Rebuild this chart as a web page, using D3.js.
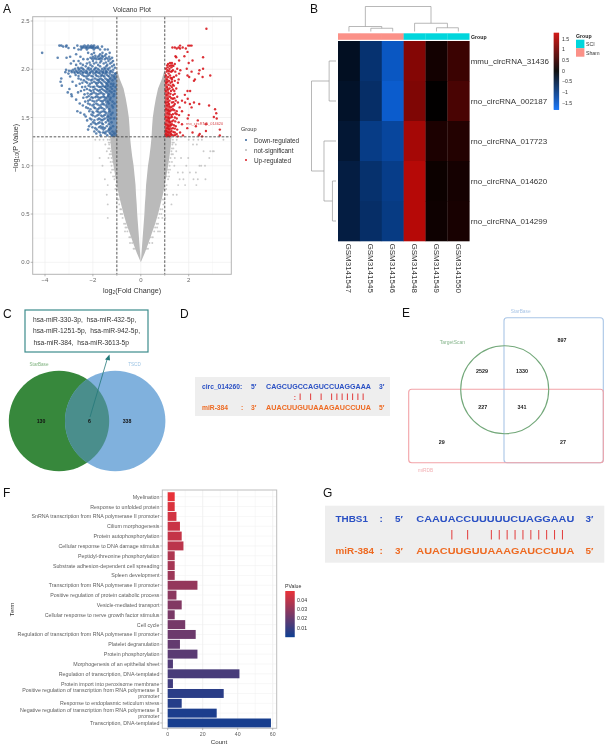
<!DOCTYPE html>
<html><head><meta charset="utf-8">
<style>html,body{margin:0;padding:0;background:#fff}svg{display:block;filter:blur(.4px)}text{font-family:"Liberation Sans",Arial,sans-serif}</style>
<script src="https://cdn.jsdelivr.net/npm/d3@7"></script></head><body><svg id="c" width="608" height="746"></svg>
<script>
// ---------- A: volcano ----------
const volcanoLevels=[0,.1,.2,.3,.4,.5,.6,.7,.8,.9,1,1.1,1.2,1.3,1.4,1.5,1.6,1.7,1.8,1.9,2];
const grayOuter=[0,.17,.32,.46,.6,.72,.82,.92,1,1.07,1.14,1.2,1.25,1.28,1,1,1,1,1,1,1];
const grayInner=[0,.03,.06,.09,.12,.15,.17,.2,.22,.26,.3,.36,.41,.45,.47,.5,.56,.63,.72,.88,1];
const denseLevels=[1.3,1.36,1.42,1.5,1.58,1.66,1.74,1.82,1.9,1.97];
const denseDown=[-1.22,-1.42,-1.3,-1.46,-1.34,-1.5,-1.4,-1.52,-1.36,-1.08];
const denseUp=[1.28,1.2,1.3,1.2,1.26,1.16,1.2,1.12,1.12,1.03];
const downRows=[
[2.245,[-3.4,-3.32,-3.1,-2.65,-2.35,-2.2,-2.06,-1.95]],
[2.235,[-3.24,-3.12,-2.5,-2.42,-2.28,-2.12,-2,-1.8,-1.62]],
[2.22,[-3.02,-2.78,-2.46,-2.3,-2.18,-2.02,-1.9,-1.78]],
[2.205,[-2.6,-2.5,-2.25,-1.96,-1.7,-1.5,-1.38]],
[2.17,[-4.12,-2.2,-1.95,-1.6,-1.3]],
[2.155,[-2.7,-2.05,-1.7,-1.45]],
[2.13,[-2.95,-2.52,-2,-1.8,-1.58,-1.32]],
[2.12,[-3.47,-3.1,-2.1,-1.9,-1.68,-1.44,-1.2]],
[2.105,[-2.4,-2.22,-1.85,-1.72,-1.5,-1.28]],
[2.085,[-2.8,-2.6,-2,-1.65,-1.35,-1.16]],
[2.06,[-2.92,-2.52,-2.25,-1.95,-1.55,-1.28]],
[2.045,[-2.7,-2.42,-2.1,-1.78,-1.4,-1.12]],
[2.03,[-2.3,-2.02,-1.7,-1.44,-1.2]],
[2.015,[-2.62,-2.48,-2.18,-1.88,-1.52,-1.3,-1.08]],
[1.995,[-3.12,-2.82,-2.6,-2.38,-2.15,-1.95,-1.75,-1.55,-1.35,-1.15]],
[1.985,[-3,-2.9,-2.7,-2.5,-2.28,-2.05,-1.85,-1.65,-1.45,-1.25]],
[1.97,[-3.15,-2.88,-2.66,-2.35,-2.1,-1.82,-1.6,-1.4,-1.18]],
[1.955,[-3.02,-2.52,-2.22,-1.98,-1.7,-1.5,-1.3,-1.06]],
[1.94,[-2.72,-2.44,-2.15,-1.88,-1.62,-1.42,-1.22]],
[1.925,[-2.95,-2.3,-2,-1.76,-1.52,-1.32,-1.12]],
[1.905,[-3.32,-2.6,-2.25,-1.92,-1.68,-1.48,-1.28,-1.08]],
[1.885,[-2.38,-2.08,-1.78,-1.58,-1.38,-1.18]],
[1.87,[-3.35,-2.85,-2.3,-1.95,-1.72,-1.52,-1.34]],
[1.85,[-2.55,-2.12,-1.85,-1.62,-1.42,-1.24,-1.14]],
[1.83,[-3.3,-2.7,-2.18,-1.82,-1.58,-1.38,-1.16]],
[1.815,[-2.45,-2,-1.7,-1.48,-1.26,-1.06]],
[1.795,[-2.98,-2.25,-1.9,-1.62,-1.4,-1.2]],
[1.775,[-2.5,-2.08,-1.76,-1.5,-1.3,-1.1]],
[1.76,[-3.05,-2.62,-1.96,-1.66,-1.44,-1.22]],
[1.74,[-2.9,-2.35,-2.1,-1.8,-1.54,-1.34,-1.12]],
[1.72,[-2.88,-2.18,-1.85,-1.56,-1.36,-1.14]],
[1.705,[-2.4,-2,-1.7,-1.46,-1.26]],
[1.685,[-2.7,-2.12,-1.76,-1.5,-1.28]],
[1.665,[-2.32,-1.94,-1.62,-1.38,-1.18]],
[1.645,[-2.55,-2.2,-1.86,-1.58,-1.34,-1.1]],
[1.625,[-2.42,-2.02,-1.72,-1.46,-1.2]],
[1.605,[-2.28,-1.95,-1.66,-1.42,-1.16]],
[1.585,[-2.1,-1.8,-1.52,-1.32]],
[1.565,[-2.65,-2.15,-1.84,-1.56,-1.3]],
[1.55,[-2.52,-1.98,-1.7,-1.44,-1.18]],
[1.53,[-2.36,-2.06,-1.76,-1.48,-1.24]],
[1.51,[-2.3,-1.9,-1.6,-1.36]],
[1.49,[-2.12,-1.74,-1.5,-1.26,-1.12]],
[1.47,[-2.24,-1.94,-1.62,-1.38]],
[1.45,[-2,-1.72,-1.46,-1.22]],
[1.43,[-2.08,-1.86,-1.58,-1.34]],
[1.41,[-2.16,-1.68,-1.42,-1.16]],
[1.39,[-1.9,-1.64,-1.5,-1.26]],
[1.375,[-2.2,-1.84,-1.56,-1.32]],
[1.355,[-1.94,-1.76,-1.44,-1.18]],
[1.335,[-1.86,-1.48,-1.28,-1.1]],
[1.315,[-1.68,-1.4,-1.2]]];
const downDenseRows=[
[2.225,[-2.38,-2.24,-2.1,-2.06,-1.98,-1.86]],
[2.14,[-1.9,-1.74,-1.62,-1.5]],
[2.11,[-2.04,-1.96,-1.76,-1.62,-1.38]],
[2.07,[-2.14,-1.86,-1.7,-1.46,-1.22]],
[2.005,[-2.74,-2.56,-2.42,-2.22,-2.08,-1.92,-1.8,-1.62,-1.48,-1.38]],
[1.975,[-2.78,-2.56,-2.44,-2.24,-2,-1.88,-1.72,-1.56,-1.46,-1.28]],
[1.96,[-2.76,-2.62,-2.42,-2.28,-2.12,-1.9,-1.76,-1.58,-1.44]],
[1.93,[-2.6,-2.38,-2.22,-2.06,-1.84,-1.66,-1.56,-1.36]],
[1.895,[-2.5,-2.18,-2.02,-1.84,-1.74,-1.62,-1.42]],
[1.86,[-2.44,-2.24,-2.04,-1.88,-1.78,-1.66,-1.46]],
[1.82,[-2.32,-2.1,-1.94,-1.76,-1.64,-1.52]],
[1.785,[-2.36,-2.14,-1.98,-1.82,-1.7,-1.56]],
[1.75,[-2.22,-2.04,-1.88,-1.72,-1.6]],
[1.71,[-2.26,-2.06,-1.9,-1.78,-1.64,-1.52]],
[1.675,[-2.2,-2.02,-1.84,-1.68,-1.56]],
[1.635,[-2.12,-1.96,-1.8,-1.64,-1.54]],
[1.595,[-2.2,-1.9,-1.74,-1.6]],
[1.56,[-2.02,-1.78,-1.64,-1.5]],
[1.52,[-2,-1.82,-1.66,-1.54]],
[1.48,[-2.06,-1.8,-1.68,-1.56]],
[1.44,[-1.92,-1.78,-1.62]],
[1.4,[-2.02,-1.74,-1.58]],
[1.345,[-1.7,-1.58,-1.52]]];
const upRows=[
[2.42,[2.74]],
[2.245,[1.64,1.98,2.05,2.12]],
[2.225,[1.32,1.42,1.58,1.75]],
[2.215,[1.5,1.64,1.88]],
[2.18,[1.95]],
[2.135,[1.45,1.82]],
[2.125,[1.48,2.6]],
[2.09,[1.6,2.16]],
[2.065,[1.22,1.3,2.0]],
[2.055,[1.14,1.42]],
[2.035,[1.2,1.36]],
[2.02,[1.12,1.28]],
[2.005,[1.05,1.2,1.52,1.92,2.6]],
[1.99,[1.12,1.34,1.65,2.45]],
[1.975,[1.08,1.26,1.44,2.12]],
[1.955,[1.16,1.6,2.42]],
[1.935,[1.05,1.22,1.48,1.95,2.9]],
[1.92,[1.14,1.38,2.02,2.58]],
[1.895,[1.1,1.3,1.58,2.26]],
[1.88,[1.18,1.42,2.22]],
[1.86,[1.06,1.24,1.55]],
[1.84,[1.16,1.34]],
[1.815,[1.1,1.3]],
[1.8,[1.2,1.48]],
[1.775,[1.04,1.26,1.4,1.95,2.06]],
[1.755,[1.16]],
[1.735,[1.08,1.35,1.84]],
[1.715,[1.22,1.52]],
[1.695,[1.12,1.34,1.96]],
[1.675,[1.2,1.46,1.72]],
[1.655,[1.04,1.3,1.55,1.85,2.22]],
[1.64,[1.18,1.42,2.05,2.44]],
[1.625,[1.1,1.38,2.85]],
[1.605,[1.26,1.62,2.12]],
[1.585,[1.06,1.34,3.1]],
[1.565,[1.2,1.5,1.72]],
[1.545,[1.12,1.44,3.15]],
[1.525,[1.28,1.6,2]],
[1.505,[1.04,1.3,3.05]],
[1.49,[1.18,1.5,3.17,1.96]],
[1.47,[1.1,1.36,2.38]],
[1.45,[1.22,1.58]],
[1.43,[1.04,1.3,1.72,2.72]],
[1.41,[1.16,1.46,2.3]],
[1.39,[1.1,1.34,1.94]],
[1.375,[1.2,1.52,3.3]],
[1.36,[1.06,1.28,2.72]],
[1.345,[1.18,1.42,1.64,2.16]],
[1.33,[1.04,1.26,1.5,2.46]],
[1.315,[1.14,1.38,1.76,2.42,3.3]],
[1.305,[1.08,1.2,1.55,2.56]]];
const upDenseRows=[
[2.04,[1.1,1.26,1.32]],[1.98,[1.18,1.3]],[1.91,[1.24,1.3]],[1.87,[1.12,1.3]],[1.83,[1.24,1.38]],
[1.79,[1.14,1.34]],[1.745,[1.24,1.42]],[1.7,[1.28,1.4]],[1.66,[1.14,1.36]],[1.615,[1.2,1.32]],
[1.575,[1.14,1.28,1.4]],[1.535,[1.2,1.34,1.5]],[1.5,[1.14,1.24,1.42]],[1.46,[1.18,1.3,1.44]],
[1.42,[1.12,1.24,1.38]],[1.385,[1.16,1.28,1.42]],[1.35,[1.12,1.24,1.36]],[1.32,[1.1,1.3,1.44]]];
const grayRows=[
[1.27,[-1.9,-1.72,-1.56,-1.38,-1.3,1.34,1.5,2,2.2,2.4,2.55,3.45]],
[1.24,[-1.34,-1.28,1.38,1.32]],
[1.22,[-1.48,-1.32,1.32,1.46,2.18,2.34]],
[1.18,[-1.3,-1.36,1.36,1.3]],
[1.15,[-1.42,-1.25,1.28,1.48,2.62,2.9,3.05,3]],
[1.12,[-1.3,-1.24,1.28,1.34]],
[1.08,[-1.72,-1.35,-1.22,1.24,1.42,1.68,1.98,2.86]],
[1.04,[-1.18,-1.26,1.2,1.3]],
[1,[-1.6,-1.22,1.2,1.4,1.9,2.45,2.52,2.68]],
[.96,[-1.14,-1.2,1.14,1.22]],
[.93,[-1.25,1.16,1.55,1.75,2.05,2.3]],
[.89,[-1.1,-1.16,1.08,1.18]],
[.86,[-1.5,-1.1,1.14,1.62,1.78,2.2,2.38,2.7]],
[.8,[-1.38,-1.04,1.08,1.56,1.85,2.32]],
[.76,[-1,-1.06,.98,1.06]],
[.7,[-1.42,-.96,1.02,1.1,1.35,1.5]],
[.65,[-.92,-.98,.92,.98]],
[.6,[-1.38,-.9,.94,1.28]],
[.55,[-.82,-.86,.82,.9]],
[.5,[-.78,-.84,.78,.86]],
[.46,[-1.38,-.76,.74,.9,1.02]],
[.4,[-.64,-.7,.66,.72]],
[.36,[-.58,-.64,.6,.68]],
[.32,[-.56,-.66,.56,.72,.8]],
[.26,[-.42,-.48,.42,.5]],
[.2,[-.36,-.45,.36,.48]],
[.14,[-.24,-.3,.24,.3]]];
const xTicksA=[-4,-2,0,2], yTicksA=[0,.5,1,1.5,2,2.5];
const legendA=["Down-regulated","not-significant","Up-regulated"];
const colorsA=["#35659d","#b9b9b9","#d81a20"];
// ---------- B: heatmap ----------
const samples=["GSM3141547","GSM3141545","GSM3141546","GSM3141548","GSM3141549","GSM3141550"];
const circRNAs=["mmu_circRNA_31436","rno_circRNA_002187","rno_circRNA_017723","rno_circRNA_014620","rno_circRNA_014299"];
const heat=[[-.25,-.82,-1.42,1.12,.16,.5],[-.3,-.75,-1.5,1.08,.02,.62],[-.38,-.98,-1.15,1.4,.24,.3],[-.48,-.8,-1,1.55,.1,.18],[-.48,-.75,-.96,1.55,.12,.2]];
const groups=["Sham","Sham","Sham","SCI","SCI","SCI"];
const heatTicks=[1.5,1,.5,0,-.5,-1,-1.5];
// ---------- C ----------
const vennC=[["StarBase",130],["overlap",6],["TSCD",338]];
const mirLines=["hsa-miR-330-3p,\u00a0\u00a0hsa-miR-432-5p,","hsa-miR-1251-5p,\u00a0\u00a0hsa-miR-942-5p,","hsa-miR-384,\u00a0\u00a0hsa-miR-3613-5p"];
// ---------- D, G ----------
const seqD=["CAGCUGCCAGUCCUAGGAAA","AUACUUGUUAAAGAUCCUUA"];
const pairsD=[6,8,10,12,13,14,15,16,17,18];
const seqG=["CAAUACCUUUUUCUAGGAAU","AUACUUGUUAAAGAUCCUUA"];
const pairsG=[4,6,9,10,11,12,13,14,15,16,17,18];
// ---------- E ----------
const vennE=[897,2529,1330,227,341,29,27];
// ---------- F ----------
const terms=["Myelination","Response to unfolded protein","SnRNA transcription from RNA polymerase II promoter","Cilium morphogenesis","Protein autophosphorylation","Cellular response to DNA damage stimulus","Peptidyl-threonine phosphorylation","Substrate adhesion-dependent cell spreading","Spleen development","Transcription from RNA polymerase II promoter","Positive regulation of protein catabolic process","Vesicle-mediated transport","Cellular response to nerve growth factor stimulus","Cell cycle","Regulation of transcription from RNA polymerase II promoter","Platelet degranulation","Protein phosphorylation","Morphogenesis of an epithelial sheet","Regulation of transcription, DNA-templated","Protein import into peroxisome membrane","Positive regulation of transcription from RNA polymerase II|promoter","Response to endoplasmic reticulum stress","Negative regulation of transcription from RNA polymerase II|promoter","Transcription, DNA-templated"];
const counts=[4,4,5,7,8,9,4,4,4,17,5,8,4,10,16,7,17,3,41,3,32,8,28,59];
const pvals=[.049,.046,.044,.042,.041,.039,.036,.034,.032,.03,.028,.026,.024,.023,.021,.019,.017,.015,.013,.011,.006,.005,.003,.002];
const pTicks=[.04,.03,.02,.01], countTicks=[0,20,40,60];

const svg=d3.select("#c");
const txt=(g,x,y,s,o={})=>{const t=g.append("text").attr("x",x).attr("y",y).text(s).attr("font-size",o.size||6).attr("fill",o.fill||"#333").attr("text-anchor",o.anchor||"start").attr("dominant-baseline","central");
 if(o.bold)t.attr("font-weight","bold");if(o.rotate!=null)t.attr("transform",`rotate(${o.rotate} ${x} ${y})`);if(o.len)t.attr("textLength",o.len).attr("lengthAdjust","spacingAndGlyphs");return t;};
[["A",3,9],["B",310,9],["C",3,314],["D",180,314],["E",402,313],["F",3,493],["G",323,493]].forEach(d=>txt(svg,d[1],d[2],d[0],{size:12,fill:"#111"}));

// ---- A
(function(){
 const g=svg.append("g");
 const x=d3.scaleLinear().domain([-4,2]).range([45,188.7]), y=d3.scaleLinear().domain([0,2.5]).range([262.3,21]);
 const L=32.7,R=231.3,T=16.7,B=274.3;
 g.append("rect").attr("x",L).attr("y",T).attr("width",R-L).attr("height",B-T).attr("fill","#fff");
 [-4,-3,-2,-1,0,1,2,3].forEach(v=>g.append("line").attr("x1",x(v)).attr("x2",x(v)).attr("y1",T).attr("y2",B).attr("stroke",v%2?"#f5f5f5":"#ebebeb").attr("stroke-width",.6));
 [0,.25,.5,.75,1,1.25,1.5,1.75,2,2.25,2.5].forEach(v=>g.append("line").attr("y1",y(v)).attr("y2",y(v)).attr("x1",L).attr("x2",R).attr("stroke",(v*2)%1?"#f5f5f5":"#ebebeb").attr("stroke-width",.6));
 const rows=volcanoLevels.map((p,i)=>({p,o:grayOuter[i],n:grayInner[i]}));
 const ar=s=>d3.area().y(d=>y(d.p)).x0(d=>x(s*d.o)).x1(d=>x(s*d.n)).curve(d3.curveLinear);
 g.append("path").attr("d",ar(-1)(rows)).attr("fill","#bababa");
 g.append("path").attr("d",ar(1)(rows)).attr("fill","#bababa");
 const pts=(r,c,rad,op)=>r.forEach(([p,xs])=>xs.forEach(v=>g.append("circle").attr("cx",x(v)).attr("cy",y(p)).attr("r",rad).attr("fill",c).attr("opacity",op)));
 pts(grayRows,"#bdbdbd",.95,.8);
 const dd=d3.area().y(d=>y(d.p)).x0(d=>x(d.v)).x1(x(-1));
 g.append("path").attr("d",dd(denseLevels.map((p,i)=>({p,v:denseDown[i]})))).attr("fill","#35659d").attr("opacity",.72);
 const du=d3.area().y(d=>y(d.p)).x0(d=>x(d.v)).x1(x(1));
 g.append("path").attr("d",du(denseLevels.map((p,i)=>({p,v:denseUp[i]})))).attr("fill","#d81a20").attr("opacity",.72);
 pts(downRows,colorsA[0],1.3,.78);
 pts(downDenseRows,colorsA[0],1.25,.78);
 pts(upRows,colorsA[2],1.2,.9);
 pts(upDenseRows,colorsA[2],1.2,.9);
 [[-1,"v"],[1,"v"],[1.3,"h"]].forEach(([v,k])=>{const l=g.append("line").attr("stroke","#484848").attr("stroke-width",.9).attr("stroke-dasharray","2.6 1.6");
   if(k=="v")l.attr("x1",x(v)).attr("x2",x(v)).attr("y1",T).attr("y2",B);else l.attr("y1",y(v)).attr("y2",y(v)).attr("x1",L).attr("x2",R);});
 g.append("rect").attr("x",L).attr("y",T).attr("width",R-L).attr("height",B-T).attr("fill","none").attr("stroke","#b5b5b5").attr("stroke-width",1);
 xTicksA.forEach(v=>{g.append("line").attr("x1",x(v)).attr("x2",x(v)).attr("y1",B).attr("y2",B+2).attr("stroke","#888").attr("stroke-width",.6);txt(g,x(v),B+6,v<0?"−"+(-v):v,{size:6,fill:"#666",anchor:"middle"});});
 [-1,1].forEach(v=>g.append("line").attr("x1",x(v)).attr("x2",x(v)).attr("y1",B).attr("y2",B+1.5).attr("stroke","#888").attr("stroke-width",.6));
 yTicksA.forEach(v=>{g.append("line").attr("y1",y(v)).attr("y2",y(v)).attr("x1",L-2).attr("x2",L).attr("stroke","#888").attr("stroke-width",.6);txt(g,L-3,y(v),v.toFixed(1),{size:6,fill:"#666",anchor:"end"});});
 txt(g,132,9.5,"Volcano Plot",{size:6.8,anchor:"middle",fill:"#333"});
 const xl=txt(g,132,290,"",{size:7.2,anchor:"middle",fill:"#333"});
 xl.append("tspan").text("log");xl.append("tspan").text("2").attr("font-size",4.8).attr("dy",1.6);xl.append("tspan").text("(Fold Change)").attr("dy",-1.6);
 const yl=txt(g,15,148,"",{size:7.2,anchor:"middle",fill:"#333",rotate:-90});
 yl.append("tspan").text("−log");yl.append("tspan").text("10").attr("font-size",4.8).attr("dy",1.6);yl.append("tspan").text("(P Value)").attr("dy",-1.6);
 txt(g,186,123.3,"rno_circRNA_014620",{size:3.9,fill:"#d8454a"});
 txt(g,241,129,"Group",{size:5.6,fill:"#333"});
 legendA.forEach((s,i)=>{g.append("circle").attr("cx",246).attr("cy",140+10*i).attr("r",1).attr("fill",colorsA[i]);txt(g,254,140+10*i,s,{size:6.4,fill:"#333"});});
})();

// ---- B
(function(){
 const g=svg.append("g");
 const x=d3.scaleBand().domain(samples).range([338,469.3]), y=d3.scaleBand().domain(circRNAs).range([41,241]);
 const col=d3.scaleLinear().domain([-1.77,0,1.77]).range(["#0d6cf2","#000000","#d00a08"]);
 heat.forEach((r,j)=>r.forEach((v,i)=>g.append("rect").attr("x",x(samples[i])).attr("y",y(circRNAs[j])).attr("width",x.bandwidth()+.3).attr("height",y.bandwidth()+.3).attr("fill",col(v))));
 const gc={SCI:"#00d6dc",Sham:"#fb9188"};
 groups.forEach((s,i)=>g.append("rect").attr("x",x(samples[i])).attr("y",33.3).attr("width",x.bandwidth()+.2).attr("height",6.5).attr("fill",gc[s]));
 txt(g,471,36.6,"Group",{size:5.2,bold:true,fill:"#222"});
 circRNAs.forEach(s=>txt(g,470.7,y(s)+y.bandwidth()/2,s,{size:8,fill:"#333"}));
 samples.forEach(s=>txt(g,x(s)+x.bandwidth()/2,243.5,s,{size:8,fill:"#333",rotate:90}));
 const cx=i=>x(samples[i])+x.bandwidth()/2, h=d3.scaleLinear().domain([0,1]).range([31.5,6.5]);
 const nodes={};const link=(a,b,hh,dir,name)=>{const pa=typeof a=="string"?nodes[a]:{p:dir.pos(a),h:0},pb=typeof b=="string"?nodes[b]:{p:dir.pos(b),h:0};
   const pth=dir.path(pa,pb,hh);g.append("path").attr("d",pth).attr("fill","none").attr("stroke","#999").attr("stroke-width",.7);nodes[name]={p:(pa.p+pb.p)/2,h:hh};};
 const top={pos:cx,path:(a,b,hh)=>`M${a.p},${h(a.h)}V${h(hh)}H${b.p}V${h(b.h)}`};
 link(1,2,.13,top,"a");link(0,"a",.2,top,"b");link(4,5,.15,top,"c");link(3,"c",.33,top,"d");link("b","d",1,top,"e");
 const ry=i=>y(circRNAs[i])+y.bandwidth()/2, hx=d3.scaleLinear().domain([0,1]).range([336,311.5]);
 const left={pos:ry,path:(a,b,hh)=>`M${hx(a.h)},${a.p}H${hx(hh)}V${b.p}H${hx(b.h)}`};
 link(0,1,.28,left,"f");link(3,4,.145,left,"g");link(2,"g",.49,left,"i");link("f","i",1,left,"j");
 const cs=d3.scaleLinear().domain([1.77,-1.78]).range([32.7,109]);
 d3.range(0,77).forEach(i=>{g.append("rect").attr("x",553.7).attr("width",5.4).attr("y",32.7+i).attr("height",1.2).attr("fill",col(cs.invert(32.7+i+.5)));});
 heatTicks.forEach(v=>txt(g,562,cs(v),v<0?"−"+(-v):v,{size:5.2,fill:"#333"}));
 txt(g,576,35.5,"Group",{size:5.2,bold:true,fill:"#222"});
 [["SCI",39.7],["Sham",48.2]].forEach(([s,yy])=>{g.append("rect").attr("x",576).attr("y",yy).attr("width",8.4).attr("height",8.5).attr("fill",gc[s]);txt(g,586,yy+4.4,s,{size:5.2,fill:"#333"});});
})();

// ---- C
(function(){
 const g=svg.append("g");
 const defs=g.append("defs");defs.append("clipPath").attr("id","cg").append("circle").attr("cx",59).attr("cy",421).attr("r",50.2);
 g.append("circle").attr("cx",59).attr("cy",421).attr("r",50.2).attr("fill","#37883c");
 g.append("circle").attr("cx",115.2).attr("cy",421).attr("r",50.2).attr("fill","#80b1dd");
 g.append("circle").attr("cx",115.2).attr("cy",421).attr("r",50.2).attr("fill","#4a8e8c").attr("clip-path","url(#cg)");
 const pos=[41,89.5,127];vennC.forEach((d,i)=>txt(g,pos[i],421,d[1],{size:5.2,bold:true,anchor:"middle",fill:"#111"}));
 txt(g,39,364.5,"StarBase",{size:4.6,anchor:"middle",fill:"#7fb27f"});txt(g,134.5,364.5,"TSCD",{size:4.6,anchor:"middle",fill:"#9cc4e4"});
 g.append("rect").attr("x",25).attr("y",310).attr("width",123).attr("height",42).attr("fill","#fff").attr("stroke","#3c8c8c").attr("stroke-width",1.2);
 const sx=[33,33,33.5], sy=[319,330.3,342];
 mirLines.forEach((s,i)=>txt(g,sx[i],sy[i],s,{size:6.7,fill:"#333"}));
 g.append("line").attr("x1",90).attr("y1",417).attr("x2",107.5).attr("y2",358).attr("stroke","#24797a").attr("stroke-width",.8);
 g.append("path").attr("d",d3.line()([[109.5,354.5],[105,359.5],[110,360.5]])+"Z").attr("fill","#24797a");
})();

function duplex(g,box,lab,pos,seqs,pairs,o){
 g.append("rect").attr("x",box[0]).attr("y",box[1]).attr("width",box[2]).attr("height",box[3]).attr("fill","#eeeeee");
 const blue="#2a50c4",org="#ee6a22";
 const xc=d3.scaleBand().domain(d3.range(20)).range([pos.seq0,pos.seq1]);
 [[0,blue,pos.y0],[1,org,pos.y1]].forEach(([k,c,yy])=>{
  txt(g,pos.lab,yy,lab[k],{size:o.size,bold:true,fill:c});
  if(lab.colon)txt(g,pos.colon,yy,":",{size:o.size,bold:true,fill:c});
  txt(g,pos.end0,yy,k?"3′":"5′",{size:o.size,bold:true,fill:c});
  txt(g,pos.seq0,yy,seqs[k],{size:o.size,bold:true,fill:c,len:pos.seq1-pos.seq0});
  txt(g,pos.end1,yy,k?"5′":"3′",{size:o.size,bold:true,fill:c});
 });
 pairs.forEach(i=>g.append("line").attr("x1",xc(i)+xc.bandwidth()/2).attr("x2",xc(i)+xc.bandwidth()/2).attr("y1",pos.p0).attr("y2",pos.p1).attr("stroke","#e23a3a").attr("stroke-width",o.w));
 return xc;
}
// ---- D
(function(){const g=svg.append("g");
 const lab=["circ_014260:","miR-384"];lab.colon=false;
 const xc=duplex(g,[195,377,195,39],lab,{seq0:266,seq1:371,lab:202,y0:386.5,y1:407.5,end0:251,end1:379,p0:393.5,p1:400,colon:0},seqD,pairsD,{size:6.7,w:1});
 txt(g,241,407.5,":",{size:6.7,bold:true,fill:"#ee6a22"});
 txt(g,xc(5)+xc.bandwidth()/2,397,":",{size:6.7,bold:true,fill:"#e23a3a",anchor:"middle"});
})();
// ---- E
(function(){const g=svg.append("g");
 g.append("rect").attr("x",504).attr("y",317.7).attr("width",99.3).attr("height",145).attr("rx",3).attr("fill","none").attr("stroke","#a9c5e6").attr("stroke-width",1.1);
 g.append("rect").attr("x",408.7).attr("y",389.3).attr("width",194.6).attr("height",73.4).attr("rx",3).attr("fill","none").attr("stroke","#f2a3a8").attr("stroke-width",1.1);
 g.append("circle").attr("cx",504.7).attr("cy",389.7).attr("r",44).attr("fill","none").attr("stroke","#73a87a").attr("stroke-width",1.1);
 const p=[[562,339.5],[482,371],[522,371],[482.7,407],[522,407],[441.7,442],[563,442]];
 vennE.forEach((v,i)=>txt(g,p[i][0],p[i][1],v,{size:5.4,bold:true,anchor:"middle",fill:"#222"}));
 txt(g,520.7,311.5,"StarBase",{size:4.8,anchor:"middle",fill:"#a9c5e6"});
 txt(g,452.5,341.5,"TargetScan",{size:5,anchor:"middle",fill:"#86b58c"});
 txt(g,425.5,470,"miRDB",{size:4.8,anchor:"middle",fill:"#f2b0b4"});
})();
// ---- F
(function(){const g=svg.append("g");
 const L=162.3,R=276.7,T=490,B=728.3;
 const x=d3.scaleLinear().domain([0,60]).range([167.7,272.7]);
 const y=d3.scaleBand().domain(terms).range([491.8,727.9]).paddingInner(.09).paddingOuter(.045);
 const col=d3.scaleLinear().domain([0,.05]).range(["#0f3f92","#ec3237"]);
 const yleg=d3.scaleLinear().domain([0,.01]).range([637,627.7]);
 [0,10,20,30,40,50,60].forEach(v=>g.append("line").attr("x1",x(v)).attr("x2",x(v)).attr("y1",T).attr("y2",B).attr("stroke",v%20?"#f4f4f4":"#e9e9e9").attr("stroke-width",.6));
 terms.forEach(t=>g.append("line").attr("x1",L).attr("x2",R).attr("y1",y(t)+y.bandwidth()/2).attr("y2",y(t)+y.bandwidth()/2).attr("stroke","#eeeeee").attr("stroke-width",.5));
 terms.forEach((t,i)=>{
  g.append("rect").attr("x",x(0)).attr("y",y(t)).attr("width",x(counts[i])-x(0)).attr("height",y.bandwidth()).attr("fill",col(pvals[i]));
  const c=y(t)+y.bandwidth()/2, parts=t.split("|");
  parts.forEach((s,k)=>txt(g,159.5,c+(parts.length>1?(k?3:-3):0),s,{size:5.3,anchor:"end",fill:"#5c5c5c"}));
  g.append("line").attr("x1",160.3).attr("x2",L).attr("y1",c).attr("y2",c).attr("stroke","#777").attr("stroke-width",.5);
 });
 g.append("rect").attr("x",L).attr("y",T).attr("width",R-L).attr("height",B-T).attr("fill","none").attr("stroke","#bdbdbd").attr("stroke-width",1);
 countTicks.forEach(v=>{g.append("line").attr("x1",x(v)).attr("x2",x(v)).attr("y1",B).attr("y2",B+1.8).attr("stroke","#777").attr("stroke-width",.5);txt(g,x(v),733.5,v,{size:5.2,anchor:"middle",fill:"#5c5c5c"});});
 txt(g,219,741,"Count",{size:6.2,anchor:"middle",fill:"#333"});
 txt(g,11,609.5,"Term",{size:6.2,anchor:"middle",fill:"#333",rotate:-90});
 txt(g,285,585.5,"PValue",{size:5.2,fill:"#333"});
 d3.range(591,637).forEach(yy=>g.append("rect").attr("x",285.3).attr("y",yy).attr("width",9.4).attr("height",1.2).attr("fill",col(yleg.invert(yy+.5))));
 pTicks.forEach(v=>txt(g,297,yleg(v),v,{size:5.2,fill:"#333"}));
})();
// ---- G
(function(){const g=svg.append("g");
 const lab=["THBS1","miR-384"];lab.colon=true;
 duplex(g,[325,505.7,279.3,57],lab,{seq0:416.3,seq1:574.3,lab:335.5,y0:518,y1:550.3,end0:395,end1:585.5,p0:530,p1:539.5,colon:379.5},seqG,pairsG,{size:9.9,w:1});
})();
</script></body></html>
